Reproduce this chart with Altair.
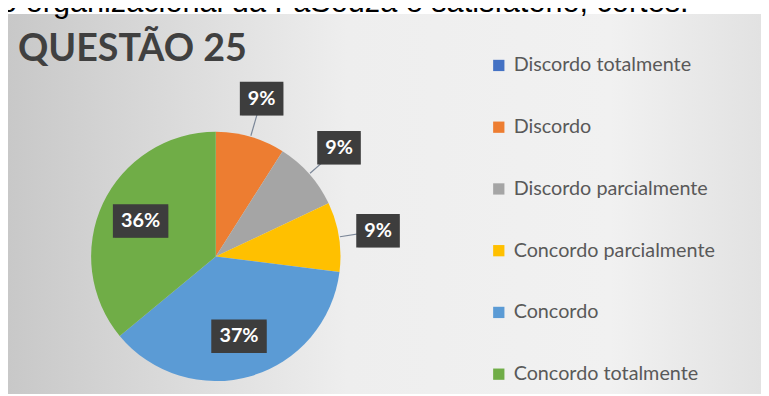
import altair as alt
import pandas as pd

# ---- data ----
titulo = "QUESTÃO 25"
texto_topo = "o organizacional da FaSouza é satisfatório, cortês."
categorias = [
    "Discordo totalmente",
    "Discordo",
    "Discordo parcialmente",
    "Concordo parcialmente",
    "Concordo",
    "Concordo totalmente",
]
percentuais = [0, 9, 9, 9, 37, 36]
cores = ["#4472C4", "#ED7D31", "#A5A5A5", "#FFC000", "#5B9BD5", "#70AD47"]

# ---- layout constants ----
W, H = 761, 388
CX, CY, R = 210, 249, 126

df = pd.DataFrame({
    "cat": categorias,
    "pct": percentuais,
    "ordem": list(range(len(categorias))),
    "rot": [f"{p}%" for p in percentuais],
})

one = pd.DataFrame({"t": [titulo], "s": [texto_topo]})

bg = alt.Chart(one).mark_rect(
    fill=alt.LinearGradient(
        gradient="linear",
        stops=[
            alt.GradientStop(offset=0, color="#c8c8c8"),
            alt.GradientStop(offset=0.45, color="#eeeeee"),
            alt.GradientStop(offset=0.8, color="#f1f1f1"),
            alt.GradientStop(offset=1, color="#e2e2e2"),
        ],
        x1=0, x2=1, y1=0, y2=0,
    )
).encode(x=alt.value(0), x2=alt.value(W), y=alt.value(4), y2=alt.value(H))

topo = alt.Chart(one).mark_text(
    font="Liberation Sans", fontSize=31, color="black", align="left", baseline="alphabetic"
).encode(x=alt.value(-8), y=alt.value(2), text="s:N")

arcs = alt.Chart(df).mark_arc(outerRadius=R, strokeWidth=0).encode(
    theta=alt.Theta("pct:Q", stack=True),
    order=alt.Order("ordem:Q"),
    color=alt.Color(
        "cat:N",
        scale=alt.Scale(domain=categorias, range=cores),
        legend=alt.Legend(
            title=None,
            orient="none",
            legendX=486,
            legendY=46,
            direction="vertical",
            symbolType="square",
            symbolSize=130,
            symbolStrokeWidth=0,
            labelFont="Lato",
            labelFontSize=20,
            labelColor="#595959",
            labelOffset=5,
            labelLimit=400,
            rowPadding=42.4,
        ),
    ),
    x=alt.value(CX),
    y=alt.value(CY),
)

calc = (
    alt.Chart(df)
    .transform_window(cum="sum(pct)", sort=[alt.SortField("ordem")], frame=[None, 0])
    .transform_filter("datum.pct > 0")
    .transform_calculate(
        mid="(datum.cum - datum.pct / 2) / 100 * 2 * PI",
        lr="datum.pct < 20 ? 166 : 84",
        bw="datum.pct < 10 ? 44 : 56",
    )
    .transform_calculate(
        lx=f"{CX} + datum.lr * sin(datum.mid)",
        ly=f"{CY} - datum.lr * cos(datum.mid)",
        r1x=f"{CX} + {R + 1} * sin(datum.mid)",
        r1y=f"{CY} - {R + 1} * cos(datum.mid)",
        r2x=f"{CX} + (datum.lr - 12) * sin(datum.mid)",
        r2y=f"{CY} - (datum.lr - 12) * cos(datum.mid)",
    )
    .transform_calculate(
        bx1="datum.lx - datum.bw / 2",
        bx2="datum.lx + datum.bw / 2",
        by1="datum.ly - 17",
        by2="datum.ly + 17",
    )
)

rules = calc.transform_filter("datum.pct < 20").mark_rule(
    color="#7b8798", strokeWidth=1.2
).encode(
    x=alt.X("r1x:Q", scale=None),
    y=alt.Y("r1y:Q", scale=None),
    x2="r2x:Q",
    y2="r2y:Q",
)

shadow = calc.mark_rect(color="black", opacity=0.22, xOffset=2, yOffset=2).encode(
    x=alt.X("bx1:Q", scale=None),
    x2="bx2:Q",
    y=alt.Y("by1:Q", scale=None),
    y2="by2:Q",
)

boxes = calc.mark_rect(color="#3d3d3d").encode(
    x=alt.X("bx1:Q", scale=None),
    x2="bx2:Q",
    y=alt.Y("by1:Q", scale=None),
    y2="by2:Q",
)

labels = calc.mark_text(
    font="Lato", fontWeight="bold", fontSize=20, color="white",
    align="center", baseline="middle",
).encode(
    x=alt.X("lx:Q", scale=None),
    y=alt.Y("ly:Q", scale=None),
    text="rot:N",
)

title_mark = alt.Chart(one).mark_text(
    font="Lato", fontWeight="bold", fontSize=38, color="#404040",
    align="left", baseline="alphabetic",
).encode(x=alt.value(10), y=alt.value(52), text="t:N")

chart = (
    alt.layer(bg, topo, arcs, rules, shadow, boxes, labels, title_mark)
    .properties(width=W, height=H, padding=0, autosize=alt.AutoSizeParams(type="none"))
    .configure_view(stroke=None)
)

chart.save("out.html", embed_options={"renderer": "svg", "actions": False})
